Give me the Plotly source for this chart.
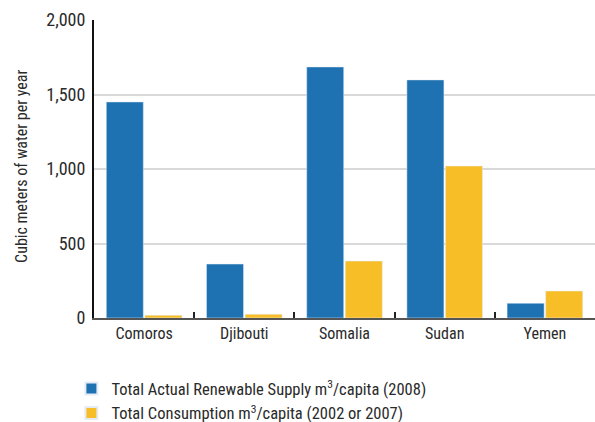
import plotly.graph_objects as go

countries = ["Comoros", "Djibouti", "Somalia", "Sudan", "Yemen"]
supply = [1450, 362, 1685, 1598, 99]
consumption = [18, 25, 382, 1020, 181]
series_names = [
    "Total Actual Renewable Supply m<sup>3</sup>/capita (2008)",
    "Total Consumption m<sup>3</sup>/capita (2002 or 2007)",
]
y_title = "Cubic meters of water per year"

FONT = "Roboto Condensed, Liberation Sans Narrow, Arial Narrow, sans-serif"

fig = go.Figure()
fig.add_trace(go.Bar(x=countries, y=supply, name=series_names[0], marker_color="#1f72b1"))
fig.add_trace(go.Bar(x=countries, y=consumption, name=series_names[1], marker_color="#f7be28"))

fig.update_layout(
    width=595, height=422,
    margin=dict(l=94, r=0, t=20, b=104, autoexpand=False),
    paper_bgcolor="white", plot_bgcolor="white",
    barmode="group", bargap=0.23, bargroupgap=0.04,
    font=dict(family=FONT, size=17, color="#2a2a2a"),
    showlegend=True,
    legend=dict(orientation="v", xref="container", yref="container", x=0.12, y=0.12,
                xanchor="left", yanchor="top", font=dict(size=16.5, color="#2a2a2a"),
                tracegroupgap=0, itemsizing="constant"),
)
fig.add_annotation(
    text=y_title, textangle=-90, xref="paper", yref="paper",
    x=-0.1437, y=0.507, xanchor="center", yanchor="middle",
    showarrow=False, font=dict(size=16, color="#2a2a2a"),
)
fig.update_xaxes(
    showline=True, linecolor="#555", linewidth=2,
    ticks="inside", tickson="boundaries", ticklen=6, tickcolor="#222", tickwidth=2,
    showgrid=False, tickfont=dict(size=16), tickangle=0, automargin=False,
)
fig.update_yaxes(
    range=[0, 2000], dtick=500, tickformat=",",
    showline=True, linecolor="#111", linewidth=2,
    showgrid=True, gridcolor="#d9d9d9", gridwidth=1.5,
    ticks="", ticklabelstandoff=3, tickfont=dict(size=18),
    zeroline=False, automargin=False,
)
fig.write_html("out.html", config={"displayModeBar": False},
               post_script="document.body.style.margin='0';")
